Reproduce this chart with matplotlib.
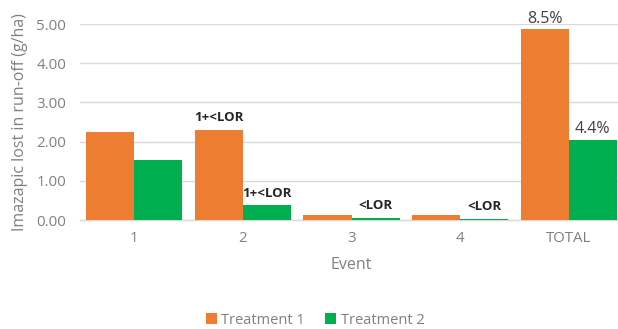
import matplotlib
matplotlib.use("Agg")
import matplotlib.pyplot as plt
import numpy as np

plt.rcParams['font.family'] = ['Open Sans', 'DejaVu Sans']

categories = ["1", "2", "3", "4", "TOTAL"]
treatment1 = [2.25, 2.30, 0.12, 0.12, 4.86]
treatment2 = [1.52, 0.38, 0.05, 0.03, 2.05]
labels1 = ["", "1+<LOR", "", "", "8.5%"]
labels2 = ["", "1+<LOR", "<LOR", "<LOR", "4.4%"]
series_names = ["Treatment 1", "Treatment 2"]
yticks = [0.0, 1.0, 2.0, 3.0, 4.0, 5.0]

c1 = "#ED7D31"
c2 = "#00B050"
grey = "#808080"

fig = plt.figure(figsize=(6.18, 3.29), dpi=100)
W, H = 618, 329
ax = fig.add_axes([80 / W, 1 - 220 / H, (623 - 80) / W, (220 - 24) / H])

x = np.arange(len(categories))
bw = 0.442
b1 = ax.bar(x - bw / 2, treatment1, bw, color=c1, label=series_names[0], zorder=3)
b2 = ax.bar(x + bw / 2, treatment2, bw, color=c2, label=series_names[1], zorder=3)

ax.set_ylim(0, 5)
ax.set_xlim(-0.5, 4.5)
ax.set_yticks(yticks)
ax.set_yticklabels([f"{v:.2f}" for v in yticks])
ax.set_xticks(x)
ax.set_xticklabels(categories)
ax.tick_params(axis='both', length=0, colors=grey, labelsize=10.8)
ax.tick_params(axis='x', pad=8)
ax.tick_params(axis='y', pad=10)
ax.yaxis.grid(True, color="#d9d9d9", linewidth=1, zorder=0)
for s in ["top", "right", "left"]:
    ax.spines[s].set_visible(False)
ax.spines["bottom"].set_color("#d9d9d9")
ax.spines["bottom"].set_linewidth(1)

ax.set_ylabel("Imazapic lost in run-off (g/ha)", color=grey, fontsize=11.5, labelpad=6)
ax.set_xlabel("Event", color=grey, fontsize=11.5, labelpad=8)


def annotate(bars, labels, values):
    for rect, lab, v in zip(bars, labels, values):
        if not lab:
            continue
        cx = rect.get_x() + rect.get_width() / 2
        if lab.endswith("%"):
            ax.annotate(lab, (cx, v), xytext=(0, 2), textcoords="offset points",
                        ha="center", va="bottom", fontsize=11.5, color="#404040")
        else:
            ax.annotate(lab, (cx, v), xytext=(0, 4), textcoords="offset points",
                        ha="center", va="bottom", fontsize=9.5, fontweight="bold",
                        color="#262626")


annotate(b1, labels1, treatment1)
annotate(b2, labels2, treatment2)

fig.legend(handles=[b1, b2], labels=series_names, loc="center",
           bbox_to_anchor=(315 / W, 1 - 320 / H), ncol=2, frameon=False,
           fontsize=10.5, labelcolor=grey, handlelength=0.75, handleheight=0.75,
           handletextpad=0.3, columnspacing=1.4)

fig.savefig("out.png", dpi=100)
